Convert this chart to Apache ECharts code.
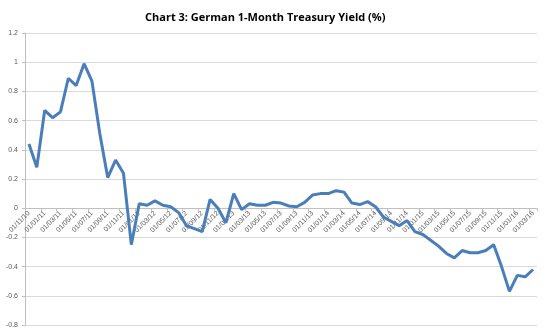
<!DOCTYPE html>
<html>
<head>
<meta charset="utf-8">
<script src="https://cdn.jsdelivr.net/npm/echarts@6/dist/echarts.min.js"></script>
<style>html,body{margin:0;padding:0;background:#fff}#c{width:546px;height:334px}</style>
</head>
<body>
<div id="c"></div>
<script>
var titleText = 'Chart 3: German 1-Month Treasury Yield (%)';
var categories = [
 '01/11/10','01/12/10',
 '01/01/11','01/02/11','01/03/11','01/04/11','01/05/11','01/06/11','01/07/11','01/08/11','01/09/11','01/10/11','01/11/11','01/12/11',
 '01/01/12','01/02/12','01/03/12','01/04/12','01/05/12','01/06/12','01/07/12','01/08/12','01/09/12','01/10/12','01/11/12','01/12/12',
 '01/01/13','01/02/13','01/03/13','01/04/13','01/05/13','01/06/13','01/07/13','01/08/13','01/09/13','01/10/13','01/11/13','01/12/13',
 '01/01/14','01/02/14','01/03/14','01/04/14','01/05/14','01/06/14','01/07/14','01/08/14','01/09/14','01/10/14','01/11/14','01/12/14',
 '01/01/15','01/02/15','01/03/15','01/04/15','01/05/15','01/06/15','01/07/15','01/08/15','01/09/15','01/10/15','01/11/15','01/12/15',
 '01/01/16','01/02/16','01/03/16'
];
var yieldValues = [
 0.44, 0.28,
 0.67, 0.62, 0.66, 0.89, 0.84, 0.99, 0.87, 0.51, 0.21, 0.33, 0.24, -0.25,
 0.03, 0.02, 0.05, 0.02, 0.01, -0.03, -0.12, -0.14, -0.16, 0.06, 0.00, -0.10,
 0.10, -0.01, 0.03, 0.02, 0.02, 0.04, 0.035, 0.015, 0.01, 0.04, 0.09, 0.10,
 0.10, 0.12, 0.11, 0.035, 0.025, 0.045, 0.01, -0.06, -0.09, -0.12, -0.085, -0.16,
 -0.18, -0.22, -0.26, -0.31, -0.34, -0.29, -0.305, -0.305, -0.29, -0.25, -0.40, -0.57,
 -0.46, -0.47, -0.42
];
var yMin = -0.8, yMax = 1.2, yStep = 0.2;

var gridTop = 33, gridBottom = 9, chartH = 334;
var plotH = chartH - gridTop - gridBottom;
// move the category axis up to the zero line (like Excel's crossing axis)
var zeroOffset = -plotH * (0 - yMin) / (yMax - yMin);

var chart = echarts.init(document.getElementById('c'), null, {renderer: 'canvas'});
chart.setOption({
  animation: false,
  backgroundColor: '#ffffff',
  title: {
    text: titleText,
    left: 140, top: 7,
    textStyle: {fontFamily: 'Open Sans', fontWeight: 'bold', fontSize: 11, color: '#000'}
  },
  grid: {left: 25, right: 9, top: gridTop, bottom: gridBottom, containLabel: false},
  xAxis: {
    type: 'category',
    data: categories,
    boundaryGap: true,
    position: 'bottom',
    offset: zeroOffset,
    axisLine: {onZero: false, lineStyle: {color: '#bfbfbf', width: 1}},
    axisTick: {show: true, interval: 1, length: 3, lineStyle: {color: '#bfbfbf'}},
    axisLabel: {interval: 1, rotate: 45, fontSize: 7, color: '#595959', fontFamily: 'Liberation Sans', margin: 4}
  },
  yAxis: {
    type: 'value',
    min: yMin, max: yMax, interval: yStep,
    axisLine: {show: true, lineStyle: {color: '#bfbfbf'}},
    axisTick: {show: true, length: 3, lineStyle: {color: '#bfbfbf'}},
    axisLabel: {fontSize: 7, color: '#595959', fontFamily: 'Liberation Sans', margin: 7},
    splitLine: {show: true, lineStyle: {color: '#d9d9d9', width: 1}}
  },
  series: [{
    type: 'line',
    data: yieldValues,
    symbol: 'none',
    lineStyle: {color: '#4a7ebb', width: 3},
    itemStyle: {color: '#4a7ebb'}
  }]
});
</script>
</body>
</html>
